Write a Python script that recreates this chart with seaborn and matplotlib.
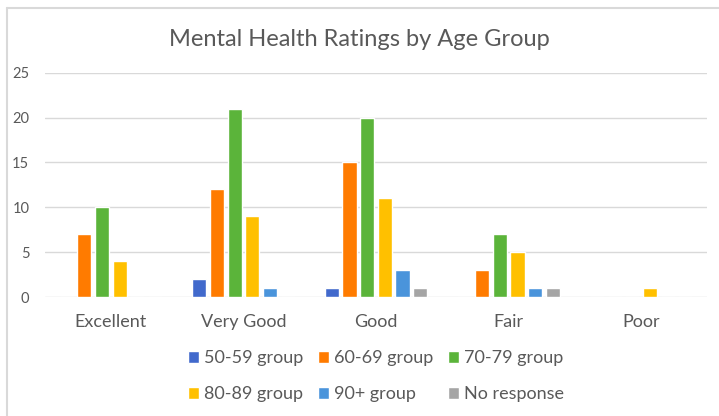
import numpy as np
import pandas as pd
import matplotlib as mpl
import matplotlib.pyplot as plt
import seaborn as sns

# DATA
ratings = ['Excellent', 'Very Good', 'Good', 'Fair', 'Poor']
groups = ['50-59 group', '60-69 group', '70-79 group', '80-89 group', '90+ group', 'No response']
g50 = [0, 2, 1, 0, 0]
g60 = [7, 12, 15, 3, 0]
g70 = [10, 21, 20, 7, 0]
g80 = [4, 9, 11, 5, 1]
g90 = [0, 1, 3, 1, 0]
no_resp = [0, 0, 1, 1, 0]
yticks = [0, 5, 10, 15, 20, 25]

colors = ['#4169CC', '#FF7B00', '#5BB43A', '#FFC000', '#4A94DB', '#A5A5A5']

df = pd.DataFrame({'rating': ratings * 6,
                   'group': np.repeat(groups, len(ratings)),
                   'count': g50 + g60 + g70 + g80 + g90 + no_resp})

sns.set_theme(style='white')
plt.rcParams['font.family'] = ['Lato', 'DejaVu Sans']
text_col = '#595959'

fig = plt.figure(figsize=(7.19, 4.16), dpi=100)
ax = fig.add_axes([0.062, 0.286, 0.922, 0.539])

sns.barplot(data=df, x='rating', y='count', hue='group', order=ratings,
            hue_order=groups, palette=colors, width=0.8, gap=0.2,
            saturation=1, ax=ax, legend=True)

ax.set_ylim(0, 25)
ax.set_yticks(yticks)
ax.set_xlim(-0.5, 4.5)
ax.yaxis.grid(True, color='#D9D9D9', linewidth=1)
ax.set_axisbelow(True)
for s in ax.spines.values():
    s.set_visible(False)
ax.set_xlabel('')
ax.set_ylabel('')
ax.tick_params(axis='y', labelsize=10.5, colors=text_col, length=0, pad=11)
ax.tick_params(axis='x', labelsize=13, colors=text_col, length=0, pad=12)

fig.text(0.5, 0.905, 'Mental Health Ratings by Age Group', ha='center', va='center',
         fontsize=17, color=text_col)

# legend, row-major in 3 columns
handles, labels = ax.get_legend_handles_labels()
order = [0, 3, 1, 4, 2, 5]
ax.legend([handles[i] for i in order], [labels[i] for i in order], ncol=3,
          loc='upper center', bbox_to_anchor=(0.5, -0.165), frameon=False,
          fontsize=13, labelcolor=text_col, handlelength=0.6, handleheight=0.6,
          handletextpad=0.3, columnspacing=0.8, labelspacing=1.1)

# chart frame (left and top edges)
fig.add_artist(mpl.lines.Line2D([7 / 719, 7 / 719], [0, 1 - 8 / 416], color='#D9D9D9', lw=1.5))
fig.add_artist(mpl.lines.Line2D([7 / 719, 1], [1 - 8 / 416, 1 - 8 / 416], color='#D9D9D9', lw=1.5))

fig.savefig('out.png', dpi=100)
